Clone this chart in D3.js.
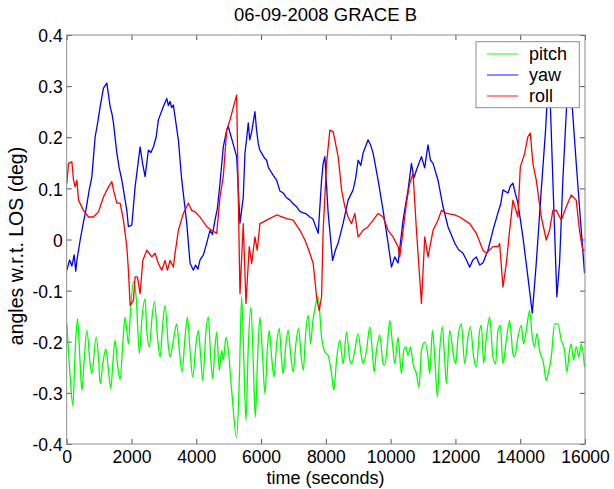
<!DOCTYPE html>
<html>
<head>
<meta charset="utf-8">
<script src="https://cdn.jsdelivr.net/npm/d3@7/dist/d3.min.js"></script>
<style>
  html, body { margin: 0; padding: 0; background: #fff; }
  svg { display: block; font-family: "Liberation Sans", Arial, Helvetica, sans-serif; }
</style>
</head>
<body>
<svg id="chart" width="614" height="489"></svg>
<script>
// ---------------- data ----------------
const chartTitle = "06-09-2008 GRACE B";
const xLabel = "time (seconds)";
const yLabel = "angles w.r.t. LOS (deg)";
const seriesNames = ["pitch", "yaw", "roll"];
const xTicks = [0, 2000, 4000, 6000, 8000, 10000, 12000, 14000, 16000];
const yTicks = [-0.4, -0.3, -0.2, -0.1, 0, 0.1, 0.2, 0.3, 0.4];
const yTickLabels = ["-0.4", "-0.3", "-0.2", "-0.1", "0", "0.1", "0.2", "0.3", "0.4"];

// [time (s), angle (deg)]
const pitch = [
[6,-0.165],[108,-0.269],[190,-0.325],[262,-0.217],[334,-0.155],[416,-0.243],[468,-0.295],[540,-0.236],[622,-0.178],[724,-0.243],[776,-0.263],[909,-0.191],[981,-0.230],[1033,-0.282],[1115,-0.243],[1208,-0.214],[1289,-0.256],[1362,-0.292],[1423,-0.243],[1495,-0.197],[1567,-0.243],[1649,-0.274],[1731,-0.204],[1804,-0.152],[1906,-0.204],[1978,-0.132],[2060,-0.082],[2143,-0.112],[2245,-0.223],[2317,-0.158],[2420,-0.116],[2472,-0.178],[2554,-0.210],[2626,-0.158],[2708,-0.122],[2811,-0.197],[2883,-0.230],[2965,-0.165],[3037,-0.129],[3140,-0.210],[3191,-0.230],[3294,-0.197],[3397,-0.165],[3478,-0.217],[3561,-0.259],[3653,-0.191],[3726,-0.152],[3808,-0.217],[3890,-0.269],[3993,-0.204],[4065,-0.178],[4137,-0.230],[4199,-0.276],[4301,-0.178],[4373,-0.152],[4445,-0.230],[4507,-0.272],[4578,-0.210],[4630,-0.181],[4712,-0.256],[4784,-0.217],[4835,-0.236],[4917,-0.191],[4989,-0.217],[5092,-0.295],[5246,-0.388],[5328,-0.276],[5400,-0.112],[5472,-0.243],[5534,-0.354],[5606,-0.210],[5688,-0.132],[5760,-0.243],[5822,-0.348],[5894,-0.230],[5966,-0.152],[6048,-0.230],[6120,-0.302],[6192,-0.217],[6253,-0.178],[6326,-0.230],[6397,-0.269],[6481,-0.204],[6561,-0.174],[6635,-0.236],[6684,-0.263],[6767,-0.204],[6838,-0.178],[6912,-0.223],[6992,-0.259],[7075,-0.204],[7159,-0.174],[7230,-0.223],[7301,-0.256],[7384,-0.178],[7455,-0.148],[7529,-0.204],[7590,-0.165],[7671,-0.132],[7763,-0.112],[7868,-0.191],[7970,-0.220],[8071,-0.227],[8176,-0.263],[8247,-0.295],[8330,-0.236],[8432,-0.197],[8534,-0.243],[8638,-0.181],[8740,-0.236],[8793,-0.243],[8895,-0.217],[8996,-0.184],[9101,-0.230],[9150,-0.243],[9255,-0.217],[9357,-0.171],[9440,-0.223],[9489,-0.259],[9563,-0.217],[9665,-0.187],[9767,-0.243],[9819,-0.246],[9902,-0.204],[9974,-0.158],[10057,-0.204],[10128,-0.243],[10229,-0.191],[10334,-0.263],[10405,-0.217],[10467,-0.210],[10538,-0.227],[10612,-0.210],[10692,-0.243],[10797,-0.263],[10877,-0.289],[10951,-0.217],[11053,-0.201],[11154,-0.230],[11207,-0.263],[11290,-0.178],[11361,-0.230],[11444,-0.308],[11515,-0.217],[11598,-0.171],[11669,-0.236],[11722,-0.282],[11823,-0.178],[11948,-0.230],[12010,-0.243],[12080,-0.191],[12184,-0.165],[12286,-0.243],[12388,-0.191],[12462,-0.171],[12564,-0.230],[12646,-0.250],[12748,-0.178],[12801,-0.168],[12872,-0.243],[12955,-0.191],[13057,-0.152],[13158,-0.230],[13242,-0.243],[13313,-0.178],[13386,-0.168],[13467,-0.243],[13572,-0.197],[13673,-0.158],[13775,-0.223],[13827,-0.230],[13929,-0.191],[14034,-0.168],[14105,-0.204],[14188,-0.178],[14290,-0.139],[14373,-0.191],[14444,-0.210],[14515,-0.184],[14598,-0.217],[14721,-0.243],[14804,-0.276],[14884,-0.256],[14959,-0.230],[15061,-0.165],[15163,-0.165],[15267,-0.197],[15368,-0.217],[15440,-0.259],[15523,-0.217],[15575,-0.204],[15646,-0.236],[15729,-0.210],[15810,-0.230],[15884,-0.204],[15986,-0.250]
];

const yaw = [
[6,-0.060],[90,-0.040],[160,-0.052],[230,-0.030],[280,-0.062],[314,-0.041],[416,-0.001],[520,0.035],[600,0.060],[690,0.095],[777,0.123],[879,0.201],[960,0.230],[1033,0.260],[1135,0.296],[1239,0.306],[1341,0.260],[1400,0.245],[1443,0.228],[1548,0.169],[1620,0.140],[1702,0.116],[1856,0.057],[1905,0.025],[2010,0.028],[2112,0.103],[2266,0.181],[2340,0.150],[2420,0.123],[2522,0.175],[2600,0.170],[2676,0.181],[2760,0.200],[2830,0.234],[2984,0.260],[3089,0.276],[3140,0.262],[3190,0.270],[3240,0.258],[3293,0.263],[3447,0.195],[3552,0.116],[3706,0.032],[3807,-0.046],[3909,-0.060],[3980,-0.050],[4050,-0.058],[4116,-0.040],[4220,-0.030],[4322,-0.007],[4424,0.018],[4500,0.010],[4578,0.038],[4650,0.060],[4732,0.110],[4834,0.181],[4939,0.214],[4988,0.221],[5247,0.162],[5349,0.032],[5451,0.083],[5503,0.169],[5560,0.200],[5605,0.228],[5650,0.195],[5710,0.210],[5760,0.230],[5811,0.250],[5860,0.215],[5913,0.188],[5960,0.175],[6018,0.169],[6100,0.160],[6172,0.155],[6230,0.140],[6274,0.136],[6380,0.125],[6481,0.116],[6580,0.095],[6684,0.091],[6780,0.082],[6891,0.077],[6990,0.070],[7097,0.064],[7200,0.055],[7301,0.052],[7400,0.050],[7507,0.044],[7600,0.040],[7763,0.012],[7868,0.116],[7917,0.149],[7970,0.162],[8071,0.052],[8207,-0.041],[8300,-0.020],[8380,-0.007],[8534,0.032],[8688,0.077],[8842,0.097],[8920,0.120],[8996,0.155],[9080,0.145],[9150,0.169],[9304,0.195],[9380,0.185],[9459,0.169],[9613,0.116],[9767,0.057],[9921,-0.007],[10026,-0.054],[10128,-0.034],[10229,-0.046],[10384,0.038],[10538,0.097],[10642,0.149],[10720,0.120],[10797,0.136],[10880,0.150],[10951,0.162],[11050,0.140],[11154,0.185],[11230,0.155],[11309,0.149],[11463,0.116],[11617,0.064],[11771,0.025],[11977,-0.007],[12100,-0.020],[12233,-0.027],[12340,-0.040],[12440,-0.054],[12540,-0.040],[12646,-0.034],[12750,-0.050],[12850,-0.046],[13004,-0.021],[13158,0.018],[13312,0.052],[13400,0.070],[13467,0.097],[13621,0.091],[13700,0.105],[13775,0.110],[13850,0.090],[13929,0.071],[14083,0.005],[14237,-0.073],[14373,-0.144],[14496,-0.046],[14650,0.097],[14783,0.214],[14890,0.340],[15008,0.116],[15131,-0.112],[15215,-0.046],[15316,0.116],[15421,0.247],[15507,0.340],[15606,0.260],[15729,0.149],[15884,0.018],[15986,-0.066]
];

const roll = [
[6,0.110],[55,0.149],[160,0.152],[210,0.116],[262,0.103],[314,0.116],[364,0.077],[518,0.057],[672,0.044],[826,0.044],[980,0.054],[1135,0.083],[1289,0.103],[1394,0.113],[1443,0.097],[1548,0.071],[1649,0.071],[1751,0.038],[1856,-0.014],[1905,-0.060],[1958,-0.129],[2060,-0.119],[2112,-0.073],[2183,-0.073],[2266,-0.106],[2349,-0.041],[2473,-0.021],[2627,-0.034],[2728,-0.027],[2830,-0.047],[2935,-0.060],[3037,-0.041],[3108,-0.060],[3191,-0.041],[3293,-0.054],[3345,-0.027],[3447,0.018],[3601,0.051],[3755,0.071],[3860,0.057],[3962,0.054],[4116,0.044],[4322,0.025],[4477,0.018],[4631,0.012],[4732,0.083],[4834,0.123],[4939,0.214],[5041,0.234],[5247,0.283],[5297,0.083],[5349,-0.106],[5451,0.031],[5534,-0.125],[5636,-0.014],[5710,-0.047],[5811,0.005],[5882,-0.021],[5966,0.031],[6172,0.038],[6481,0.048],[6789,0.041],[6992,0.038],[7199,0.018],[7353,-0.001],[7507,-0.027],[7609,-0.047],[7714,-0.112],[7794,-0.139],[7868,-0.112],[7917,0.018],[8022,0.149],[8124,0.214],[8226,0.211],[8380,0.162],[8485,0.097],[8587,0.064],[8688,0.044],[8793,0.031],[8895,0.051],[8996,0.005],[9150,0.018],[9304,0.025],[9459,0.038],[9613,0.051],[9767,0.044],[9921,0.018],[10075,0.005],[10229,-0.014],[10282,-0.034],[10384,0.018],[10488,0.071],[10590,0.110],[10692,0.129],[10797,0.018],[10951,-0.125],[11053,0.005],[11154,-0.034],[11309,0.018],[11463,0.038],[11568,0.057],[11722,0.051],[11977,0.048],[12131,0.044],[12440,0.031],[12646,0.012],[12850,-0.021],[12955,-0.027],[13158,-0.014],[13312,-0.014],[13365,-0.008],[13467,-0.093],[13572,-0.047],[13674,0.018],[13775,0.077],[13929,0.044],[14003,0.142],[14136,0.168],[14237,0.201],[14311,0.208],[14392,0.149],[14496,0.116],[14650,0.044],[14805,-0.001],[14907,0.018],[15008,0.057],[15113,0.057],[15267,0.038],[15421,0.064],[15575,0.087],[15729,0.077],[15830,0.018],[15932,-0.021],[15986,-0.021]
];

const seriesData = [pitch, yaw, roll];
const seriesColors = ["#00ff00", "#0000ff", "#ff0000"];

// ---------------- layout ----------------
const svg = d3.select("#chart");
const plot = { left: 66.7, right: 585, top: 35, bottom: 444 };
const tickFont = 17.5;

const x = d3.scaleLinear().domain([0, 16000]).range([plot.left, plot.right]);
const y = d3.scaleLinear().domain([-0.4, 0.4]).range([plot.bottom, plot.top]);

svg.append("rect").attr("width", 614).attr("height", 489).attr("fill", "#fff");

svg.append("defs").append("clipPath").attr("id", "clip")
  .append("rect")
  .attr("x", plot.left).attr("y", plot.top)
  .attr("width", plot.right - plot.left).attr("height", plot.bottom - plot.top);

const fmtY = (d, i) => yTickLabels[i];
const axisColor = "#8c8c8c";

// bottom axis (ticks inward)
const gx = svg.append("g").attr("transform", `translate(0,${plot.bottom})`)
  .call(d3.axisBottom(x).tickValues(xTicks).tickSizeInner(-5).tickSizeOuter(0).tickPadding(6).tickFormat(d3.format("d")));
// top axis mirrored ticks
const gxt = svg.append("g").attr("transform", `translate(0,${plot.top})`)
  .call(d3.axisTop(x).tickValues(xTicks).tickSizeInner(-5).tickSizeOuter(0).tickFormat(""));
// left axis
const gy = svg.append("g").attr("transform", `translate(${plot.left},0)`)
  .call(d3.axisLeft(y).tickValues(yTicks).tickSizeInner(-5).tickSizeOuter(0).tickPadding(4).tickFormat(fmtY));
// right axis mirrored ticks
const gyr = svg.append("g").attr("transform", `translate(${plot.right},0)`)
  .call(d3.axisRight(y).tickValues(yTicks).tickSizeInner(-5).tickSizeOuter(0).tickFormat(""));

[gx, gxt, gy, gyr].forEach(g => {
  g.select(".domain").remove();
  g.selectAll(".tick line").attr("stroke", "#555").attr("stroke-width", 1);
  g.selectAll(".tick text").attr("fill", "#000").style("font-size", tickFont + "px")
   .style("font-family", '"Liberation Sans", Arial, sans-serif');
});
gy.selectAll(".tick text").attr("dy", "0.38em");
gx.selectAll(".tick text").attr("dy", "0.72em");

// series lines
const lineGen = d3.line().x(d => x(d[0])).y(d => y(d[1]));
const gLines = svg.append("g").attr("clip-path", "url(#clip)");
seriesData.forEach((data, i) => {
  gLines.append("path")
    .datum(data)
    .attr("fill", "none")
    .attr("stroke", seriesColors[i])
    .attr("stroke-width", 1.3)
    .attr("stroke-linejoin", "round")
    .attr("d", i === 0 ? lineGen.curve(d3.curveMonotoneX)(data) : lineGen.curve(d3.curveLinear)(data));
});

// axes box
svg.append("rect")
  .attr("x", plot.left).attr("y", plot.top)
  .attr("width", plot.right - plot.left).attr("height", plot.bottom - plot.top)
  .attr("fill", "none").attr("stroke", axisColor).attr("stroke-width", 1);

// title and labels
svg.append("text").attr("x", 325.5).attr("y", 21).attr("text-anchor", "middle")
  .style("font-size", "18.5px").text(chartTitle);
svg.append("text").attr("x", 325.5).attr("y", 484).attr("text-anchor", "middle")
  .style("font-size", "18px").text(xLabel);
svg.append("text").attr("transform", "translate(22.5,246) rotate(-90)").attr("text-anchor", "middle")
  .style("font-size", "19.5px").text(yLabel);

// legend
const leg = { x: 476, y: 41.7, w: 103.3, h: 66 };
const gLeg = svg.append("g");
gLeg.append("rect").attr("x", leg.x).attr("y", leg.y).attr("width", leg.w).attr("height", leg.h)
  .attr("fill", "#fff").attr("stroke", axisColor).attr("stroke-width", 1);
seriesNames.forEach((name, i) => {
  const cy = 54 + i * 21;
  gLeg.append("line").attr("x1", 487).attr("x2", 518.3).attr("y1", cy).attr("y2", cy)
    .attr("stroke", seriesColors[i]).attr("stroke-width", 1.3).attr("stroke-opacity", 0.7);
  gLeg.append("text").attr("x", 529).attr("y", cy + 6).style("font-size", "18px").text(name);
});
</script>
</body>
</html>
